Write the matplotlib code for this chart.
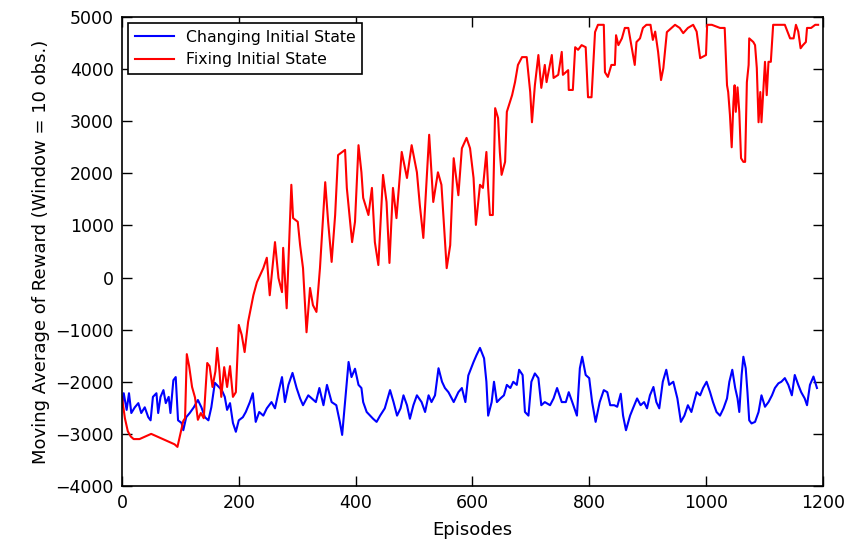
import matplotlib
matplotlib.use("Agg")
from matplotlib import pyplot as plt

# Fixing Initial State (red) - episode / moving average
fix_ep = [0, 5, 10, 15, 20, 30, 40, 50, 60, 70, 80, 90, 95, 100, 105, 108, 111, 115, 120, 125,
          130, 135, 140, 146, 150, 155, 160, 163, 167, 170, 175, 180, 185, 190, 195, 200, 205, 210,
          216, 225, 231, 242, 248, 253, 262, 268, 274, 276, 282, 290, 293, 301, 305, 310, 316, 322,
          327, 333, 339, 348, 353, 359, 365, 370, 382, 385, 394, 399, 405, 410, 413, 422, 428, 433,
          439, 447, 453, 458, 464, 470, 479, 488, 496, 505, 510, 516, 526, 533, 541, 547, 556, 562,
          568, 576, 582, 590, 596, 602, 606, 613, 618, 624, 627, 630, 635, 639, 644, 647, 650, 656,
          659, 668, 673, 678, 685, 693, 699, 702, 707, 713, 718, 724, 727, 736, 739, 747, 753, 755,
          764, 765, 772, 776, 781, 787, 794, 798, 804, 810, 815, 825, 827, 832, 838, 844, 846, 850,
          856, 861, 867, 873, 878, 881, 887, 892, 898, 905, 909, 913, 918, 923, 927, 933, 941, 947,
          955, 961, 969, 978, 984, 990, 995, 1000, 1002, 1010, 1024, 1032, 1036, 1038, 1041, 1044,
          1047, 1049, 1051, 1054, 1057, 1060, 1064, 1067, 1070, 1073, 1074, 1081, 1084, 1087, 1090,
          1093, 1095, 1098, 1101, 1104, 1107, 1111, 1115, 1135, 1144, 1150, 1154, 1158, 1162, 1166,
          1171, 1173, 1180, 1187, 1192]
fix_val = [-2300, -2700, -2950, -3050, -3100, -3100, -3050, -3000, -3050, -3100, -3150, -3200,
           -3250, -3000, -2750, -2700, -1470, -1700, -2100, -2300, -2730, -2600, -2700, -1640,
           -1700, -2100, -1800, -1350, -1800, -2290, -1720, -2100, -1700, -2290, -2200, -910,
           -1100, -1430, -850, -340, -90, 180, 380, -340, 680, -10, -280, 570, -590, 1780, 1140,
           1070, 620, 180, -1050, -200, -530, -660, 180, 1830, 1070, 300, 1200, 2350, 2450, 1720,
           680, 1070, 2540, 2020, 1530, 1200, 1720, 680, 240, 1970, 1450, 280, 1720, 1140, 2410,
           1910, 2540, 2020, 1390, 760, 2740, 1450, 2020, 1780, 180, 620, 2290, 1580, 2480, 2680,
           2480, 1910, 1010, 1780, 1720, 2410, 1720, 1200, 1200, 3250, 3060, 2410, 1970, 2220,
           3180, 3500, 3750, 4080, 4230, 4230, 3560, 2980, 3690, 4270, 3640, 4080, 3750, 4270,
           3830, 3890, 4330, 3890, 3980, 3600, 3600, 4420, 4370, 4460, 4420, 3460, 3460, 4710,
           4850, 4850, 3940, 3850, 4080, 4080, 4650, 4460, 4590, 4790, 4790, 4400, 4080, 4520,
           4590, 4790, 4850, 4850, 4560, 4720, 4330, 3790, 4020, 4710, 4790, 4850, 4790, 4690,
           4790, 4850, 4720, 4210, 4240, 4270, 4850, 4850, 4790, 4790, 3690, 3560, 3120, 2500,
           3370, 3690, 3180, 3650, 3180, 2290, 2220, 2220, 3750, 4080, 4590, 4520, 4460, 4020,
           2980, 3560, 2980, 3560, 4140, 3500, 4140, 4140, 4850, 4850, 4590, 4590, 4850, 4720,
           4400, 4460, 4520, 4790, 4790, 4850, 4850]

# Changing Initial State (blue)
chg_ep = [0, 3, 8, 12, 16, 22, 28, 33, 39, 45, 49, 53, 59, 62, 66, 71, 75, 80, 83, 88, 92, 96,
          102, 105, 110, 116, 123, 130, 136, 142, 148, 153, 159, 165, 171, 176, 180, 185, 190, 195,
          200, 207, 212, 219, 224, 229, 235, 242, 248, 256, 262, 268, 274, 279, 285, 292, 299, 305,
          310, 319, 325, 332, 338, 345, 351, 359, 367, 373, 377, 385, 388, 393, 399, 405, 410, 413,
          419, 425, 430, 436, 442, 450, 459, 465, 471, 477, 482, 488, 493, 499, 505, 513, 519, 525,
          530, 536, 542, 548, 553, 559, 568, 576, 582, 588, 593, 602, 607, 613, 620, 624, 627, 633,
          637, 642, 648, 654, 659, 665, 670, 676, 680, 686, 690, 696, 701, 707, 713, 718, 724, 733,
          739, 745, 753, 760, 765, 771, 779, 784, 788, 794, 800, 805, 811, 818, 825, 831, 836, 843,
          848, 854, 858, 863, 870, 875, 882, 888, 894, 899, 904, 910, 915, 920, 926, 932, 937, 944,
          951, 957, 963, 969, 975, 984, 990, 995, 1001, 1007, 1012, 1018, 1024, 1030, 1036, 1040,
          1045, 1050, 1054, 1057, 1061, 1064, 1068, 1071, 1074, 1078, 1084, 1090, 1095, 1101, 1107,
          1113, 1118, 1124, 1129, 1135, 1141, 1147, 1152, 1158, 1163, 1169, 1173, 1178, 1184, 1190]
chg_val = [-2490, -2220, -2540, -2220, -2600, -2490, -2410, -2600, -2490, -2680, -2740, -2290,
           -2220, -2600, -2290, -2160, -2410, -2290, -2600, -1970, -1910, -2740, -2790, -2930,
           -2680, -2600, -2490, -2350, -2490, -2680, -2740, -2490, -2020, -2090, -2160, -2290,
           -2540, -2410, -2790, -2960, -2740, -2680, -2580, -2390, -2220, -2770, -2580, -2650,
           -2510, -2390, -2510, -2200, -1910, -2390, -2060, -1830, -2120, -2320, -2450, -2260,
           -2320, -2390, -2120, -2450, -2060, -2390, -2450, -2770, -3020, -2010, -1620, -1910,
           -1750, -2060, -2120, -2390, -2580, -2650, -2710, -2770, -2650, -2510, -2160, -2390,
           -2650, -2510, -2260, -2450, -2710, -2450, -2260, -2390, -2580, -2260, -2390, -2260,
           -1740, -2000, -2120, -2200, -2390, -2200, -2120, -2390, -1880, -1620, -1490, -1350,
           -1550, -2000, -2650, -2390, -2000, -2390, -2320, -2260, -2060, -2120, -2000, -2060,
           -1770, -1870, -2580, -2650, -2000, -1840, -1930, -2450, -2390, -2450, -2320, -2120,
           -2390, -2390, -2200, -2390, -2650, -1740, -1520, -1870, -1930, -2390, -2770, -2390,
           -2160, -2200, -2450, -2450, -2480, -2230, -2650, -2930, -2650, -2510, -2320, -2450,
           -2390, -2510, -2260, -2100, -2390, -2510, -2000, -1770, -2060, -2000, -2320, -2770,
           -2650, -2450, -2580, -2200, -2260, -2120, -2000, -2200, -2390, -2580, -2650, -2510,
           -2320, -2000, -1770, -2120, -2320, -2580, -1870, -1520, -1740, -2200, -2740, -2800,
           -2770, -2580, -2260, -2480, -2390, -2260, -2120, -2030, -2000, -1930, -2060, -2260,
           -1870, -2060, -2200, -2320, -2450, -2060, -1900, -2120]

fig = plt.figure(figsize=(8.5, 5.5), dpi=100)
ax = fig.add_axes([0.1435, 0.1164, 0.8245, 0.8527])
ax.plot(chg_ep, chg_val, color='blue', linewidth=1.5, label='Changing Initial State')
ax.plot(fix_ep, fix_val, color='red', linewidth=1.5, label='Fixing Initial State')

ax.set_xlim(0, 1200)
ax.set_ylim(-4000, 5000)
ax.set_xticks(range(0, 1201, 200))
ax.set_yticks(range(-4000, 5001, 1000))
ax.tick_params(direction='in', top=True, right=True, length=7, width=1, labelsize=12.5, pad=6)
for s in ax.spines.values():
    s.set_linewidth(1.2)
ax.set_xlabel("Episodes", fontsize=13, labelpad=6)
ax.set_ylabel("Moving Average of Reward (Window = 10 obs.)", fontsize=13)
leg = ax.legend(loc='upper left', fontsize=11.3, fancybox=False, framealpha=1,
                borderaxespad=0.4, handlelength=2.5)
leg.get_frame().set_edgecolor('black')
leg.get_frame().set_linewidth(1.2)

fig.savefig("out.png", dpi=100)
